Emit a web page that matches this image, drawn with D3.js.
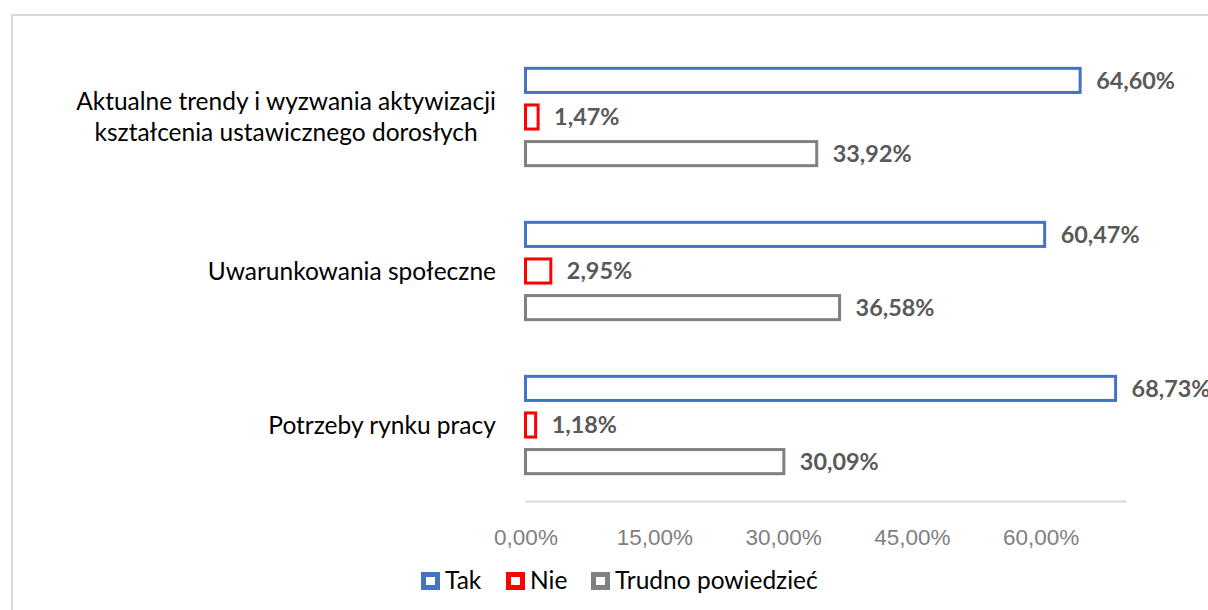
<!DOCTYPE html>
<html lang="pl">
<head>
    <meta charset="UTF-8">
    <title>Wykres</title>
    <script src="https://d3js.org/d3.v7.min.js"></script>
    <style>
        body { margin: 0; background: #fff; }
        svg { font-family: Lato, "Open Sans", sans-serif; }
        .cat { font-size: 24.5px; fill: #000; }
        .val { font-size: 23.4px; font-weight: bold; fill: #595959; }
        .tick text { font-size: 22.5px; fill: #808080; }
        .legend text { font-size: 24.5px; fill: #000; }
    </style>
</head>
<body>
<div id="chart"></div>
<script>
    // categories, top to bottom
    const categories = [
        ["Aktualne trendy i wyzwania aktywizacji", "kształcenia ustawicznego dorosłych"],
        ["Uwarunkowania społeczne"],
        ["Potrzeby rynku pracy"]
    ];
    const seriesNames = ["Tak", "Nie", "Trudno powiedzieć"];
    const seriesColors = ["#4472C4", "#FF0000", "#808080"];
    const tak = [64.60, 60.47, 68.73];
    const nie = [1.47, 2.95, 1.18];
    const trudno = [33.92, 36.58, 30.09];
    const tickValues = [0, 15, 30, 45, 60];

    const width = 1208, height = 610;
    const svg = d3.select("#chart").append("svg")
        .attr("width", width)
        .attr("height", height);

    // chart border
    svg.append("rect")
        .attr("x", 12).attr("y", 15)
        .attr("width", width + 10).attr("height", height + 10)
        .attr("fill", "none")
        .attr("stroke", "#d9d9d9")
        .attr("stroke-width", 2);

    const catKeys = categories.map(c => c.join(" "));
    const x = d3.scaleLinear().domain([0, 70]).range([525.5, 1126.5]);
    const y = d3.scaleBand().domain(catKeys).range([40, 502]);
    const ySub = d3.scaleBand().domain(seriesNames).range([0, y.bandwidth()])
        .paddingInner(0.26).paddingOuter(0.733);

    const series = [tak, nie, trudno];
    const rows = [];
    catKeys.forEach((c, i) => {
        seriesNames.forEach((s, j) => {
            rows.push({cat: c, name: s, value: series[j][i], color: seriesColors[j]});
        });
    });

    // axis line
    svg.append("line")
        .attr("x1", x(0)).attr("x2", x(70))
        .attr("y1", 501.5).attr("y2", 501.5)
        .attr("stroke", "#d9d9d9")
        .attr("stroke-width", 2);

    const bars = svg.append("g");
    bars.selectAll("rect")
        .data(rows)
        .enter().append("rect")
        .attr("x", x(0))
        .attr("y", d => y(d.cat) + ySub(d.name) + 1.5)
        .attr("width", d => x(d.value) - x(0))
        .attr("height", ySub.bandwidth() - 3)
        .attr("fill", "#fff")
        .attr("stroke", d => d.color)
        .attr("stroke-width", 3);

    bars.selectAll("text")
        .data(rows)
        .enter().append("text")
        .attr("class", "val")
        .attr("x", d => x(d.value) + 16)
        .attr("y", d => y(d.cat) + ySub(d.name) + ySub.bandwidth() / 2)
        .attr("dy", "0.36em")
        .text(d => d.value.toFixed(2).replace(".", ",") + "%");

    // category labels
    const catG = svg.append("g");
    categories.forEach((lines, i) => {
        const cy = y(catKeys[i]) + y.bandwidth() / 2;
        const t = catG.append("text")
            .attr("class", "cat")
            .attr("text-anchor", "middle");
        lines.forEach((ln, k) => {
            t.append("tspan")
                .attr("x", 0)
                .attr("y", cy + (k - (lines.length - 1) / 2) * 31)
                .attr("dy", "0.36em")
                .text(ln);
        });
        const w = t.node().getBBox().width;
        t.attr("transform", `translate(${496 - w / 2},0)`);
    });

    // x axis
    svg.append("g")
        .attr("transform", "translate(0,502)")
        .call(d3.axisBottom(x).tickValues(tickValues)
            .tickSize(0).tickPadding(27)
            .tickFormat(d => d.toFixed(2).replace(".", ",") + "%"))
        .call(g => g.select(".domain").remove());

    // legend
    const legend = svg.append("g").attr("class", "legend");
    const legendX = [421, 506, 591];
    seriesNames.forEach((s, i) => {
        legend.append("rect")
            .attr("x", legendX[i] + 2.5).attr("y", 574.5)
            .attr("width", 14).attr("height", 13)
            .attr("fill", "#fff")
            .attr("stroke", seriesColors[i])
            .attr("stroke-width", 5);
        legend.append("text")
            .attr("x", legendX[i] + 24)
            .attr("y", 580)
            .attr("dy", "0.36em")
            .text(s);
    });
</script>
</body>
</html>
